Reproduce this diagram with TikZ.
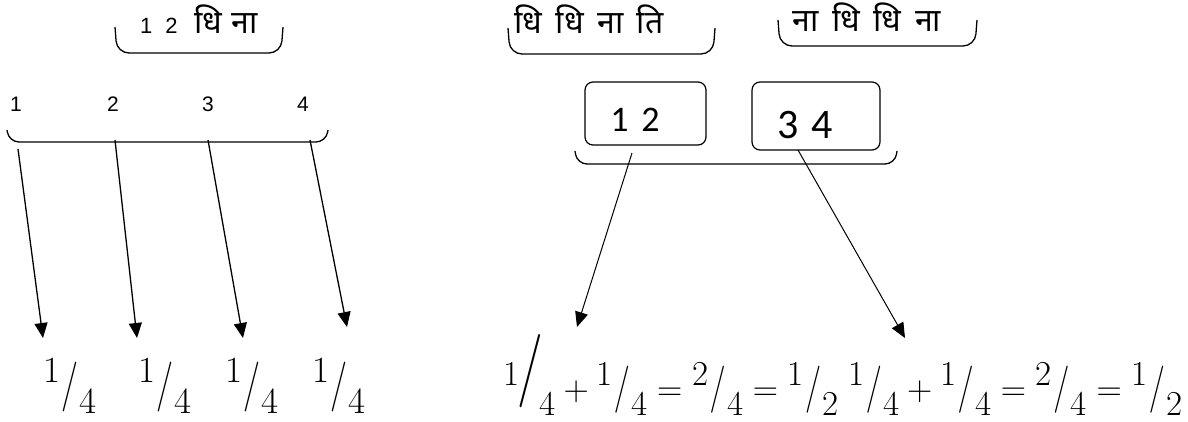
\RequirePackage{fix-cm}
\documentclass[tikz,border=0pt]{standalone}
\usepackage{amsmath}
\usepackage{fontspec}
\usepackage{graphicx}
\usetikzlibrary{arrows.meta}
\newfontfamily\devafont[Script=Devanagari]{Noto Sans}
\newfontfamily\arialfont{Liberation Sans}
\newfontfamily\calibfont{Carlito}
% slanted fraction like 1/4
\newcommand{\fr}[2]{\raisebox{0.42em}{#1}\kern0.04em\raisebox{-0.05em}{\scalebox{1}[1.35]{$/$}}\kern0.04em\raisebox{-0.43em}{#2}}
\newcommand{\bigfr}[2]{\raisebox{0.42em}{#1}\kern-0.05em\raisebox{0.3em}{\scalebox{1.6}[2.1]{$/$}}\kern-0.1em\raisebox{-0.43em}{#2}}

\begin{document}
\begin{tikzpicture}[x=1pt,y=-1pt,
    num/.style={font=\arialfont\fontsize{21}{25}\selectfont, inner sep=0pt},
    bol/.style={font={\devafont\fontsize{32}{36}\selectfont\spaceskip=0.42em}, inner sep=0pt, anchor=base},
    brak/.style={line width=1.3pt, rounded corners=12pt},
    arr/.style={line width=1.3pt, -{Triangle[length=15pt,width=13pt]}},
    thinarr/.style={line width=1pt, -{Triangle[length=15pt,width=13pt]}},
    box/.style={draw, line width=1.2pt, rounded corners=8pt, inner sep=0pt},
    digits/.style={font=\calibfont\fontsize{#1}{#1}\selectfont, inner sep=0pt},
    frac/.style={font=\fontsize{37}{40}\selectfont, inner sep=0pt, anchor=base}]
    \useasboundingbox (0,0) rectangle (1188,421);

    % Left: four beats
    \node[inner sep=0pt, anchor=base west] (bolA) at (140,33) {{\arialfont\fontsize{22}{25}\selectfont 1\hspace{13pt}2}\hspace{17pt}{\devafont\fontsize{32}{36}\selectfont धि\hspace{9pt}ना}};
    \draw[brak] (115,27) -- (117,53) -- (281,53) -- (283,27); % brace under the bol

    \node[num] (n1) at (16,104) {1};
    \node[num] (n2) at (113,104) {2};
    \node[num] (n3) at (208,104) {3};
    \node[num] (n4) at (303,104) {4};
    \draw[brak, rounded corners=10pt] (7,130) -- (9,142) -- (326,142) -- (328,130); % brace under the beats

    \coordinate (s1) at (18,149);  \coordinate (e1) at (43,338);
    \coordinate (s2) at (115,140); \coordinate (e2) at (137,338);
    \coordinate (s3) at (208,140); \coordinate (e3) at (243,338);
    \coordinate (s4) at (310,140); \coordinate (e4) at (347,327);

    \foreach \i/\x in {1/70,2/165,3/252,4/339}
        \node[frac] (q\i) at (\x,398) {\fr{1}{4}};
    \foreach \i in {1,...,4}
        \draw[arr] (s\i) -- (e\i);

    % Right: two halves
    \node[bol] (bolB) at (589,33) {धि धि ना ति};
    \draw[brak] (508,28) -- (510,54) -- (713,54) -- (715,28);
    \node[bol] (bolC) at (867,31) {ना धि धि ना};
    \draw[brak] (778,20) -- (780,46) -- (975,46) -- (977,20);

    \node[box, minimum width=121pt, minimum height=63pt] (b12) at (645.5,113.5) {};
    \node[digits=36] (t12) at (635,120) {1\hspace{0.35em}2};
    \node[box, minimum width=128pt, minimum height=68pt] (b34) at (816,116) {};
    \node[digits=42] (t34) at (805,125) {3\hspace{0.3em}4};
    \draw[brak, rounded corners=10pt] (575,151) -- (577,164) -- (895,164) -- (897,151); % brace under both boxes

    \coordinate (s5) at (632,153); \coordinate (e5) at (577,327);
    \coordinate (s6) at (798,150); \coordinate (e6) at (905,338);
    \draw[thinarr] (s5) -- (e5);
    \draw[thinarr] (s6) -- (e6);

    \node[anchor=base west, font=\fontsize{35}{40}\selectfont, inner sep=0pt] (sum) at (503,400)
        {$\bigfr{1}{4}+\fr{1}{4}=\fr{2}{4}=\fr{1}{2}\;\fr{1}{4}+\fr{1}{4}=\fr{2}{4}=\fr{1}{2}$};
\end{tikzpicture}
\end{document}
